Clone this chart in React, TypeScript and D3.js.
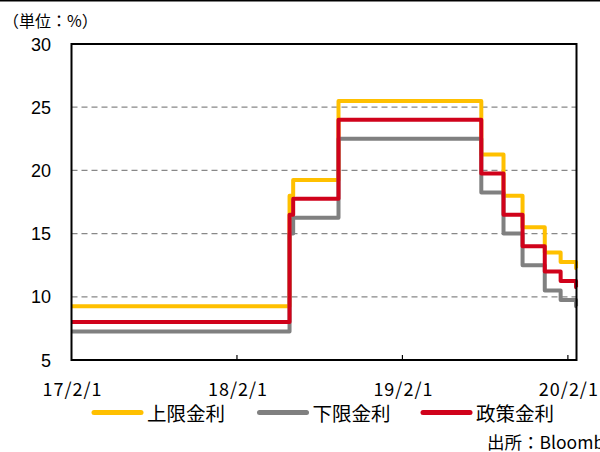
import React, { useRef, useEffect } from "react";
import * as d3 from "d3";

const W = 600;
const H = 452;

// change dates (step after) and the rates that hold from each date
const dates = [
  "2017-02-01", "2018-05-28", "2018-06-05", "2018-09-13", "2019-07-25",
  "2019-09-12", "2019-10-24", "2019-12-12", "2020-01-16", "2020-02-19", "2020-02-20",
];
const upper = [9.25, 18.0, 19.25, 25.5, 21.25, 18.0, 15.5, 13.5, 12.75, 12.25, 12.25];
const lower = [7.25, 15.0, 16.25, 22.5, 18.25, 15.0, 12.5, 10.5, 9.75, 9.25, 9.25];
const policy = [8.0, 16.5, 17.75, 24.0, 19.75, 16.5, 14.0, 12.0, 11.25, 10.75, 10.75];

const seriesNames = ["上限金利", "下限金利", "政策金利"];
const seriesColors = ["#FFC000", "#808080", "#D0021B"];
const xTicks = ["2017-02-01", "2018-02-01", "2019-02-01", "2020-02-01"];
const xTickLabels = ["17/2/1", "18/2/1", "19/2/1", "20/2/1"];
const yTicks = [5, 10, 15, 20, 25, 30];

const parse = d3.timeParse("%Y-%m-%d");

export default function App() {
  const ref = useRef<SVGSVGElement>(null);

  useEffect(() => {
    if (!ref.current) return;
    const svg = d3.select(ref.current);
    svg.selectAll("*").remove();

    const left = 71.5, right = 576.5, top = 44, bottom = 360;
    const x = d3.scaleTime()
      .domain([parse("2017-02-01")!, parse("2020-02-20")!])
      .range([left, right]);
    const y = d3.scaleLinear().domain([5, 30]).range([bottom, top]);

    const jp = "'Noto Sans CJK JP', sans-serif";
    const num = "'Liberation Sans', Arial, sans-serif";

    svg.append("rect").attr("width", W).attr("height", H).attr("fill", "#fff");
    svg.append("line").attr("x1", 0).attr("x2", W).attr("y1", 0.5).attr("y2", 0.5)
      .attr("stroke", "#000").attr("stroke-width", 2);

    // unit label
    svg.append("text").attr("x", 3).attr("y", 27).attr("font-family", jp)
      .attr("font-size", 16).attr("fill", "#000").text("（単位：%）");

    // grid
    svg.selectAll(".grid").data(yTicks.filter(v => v > 5 && v < 30)).enter()
      .append("line")
      .attr("x1", left).attr("x2", right)
      .attr("y1", d => y(d)).attr("y2", d => y(d))
      .attr("stroke", "#888").attr("stroke-width", 1.3)
      .attr("stroke-dasharray", "6,4");

    // y labels
    svg.selectAll(".ylab").data(yTicks).enter().append("text")
      .attr("x", 51).attr("y", d => y(d) + 6.5)
      .attr("text-anchor", "end").attr("font-family", num)
      .attr("font-size", 18).attr("fill", "#000")
      .text(d => d);

    // series
    const allSeries = [upper, lower, policy];
    const lineGen = d3.line<[Date, number]>()
      .x(d => x(d[0])).y(d => y(d[1]))
      .curve(d3.curveStepAfter);
    allSeries.forEach((vals, i) => {
      const pts: [Date, number][] = dates.map((d, j) => [parse(d)!, vals[j]]);
      svg.append("path").attr("d", lineGen(pts)!)
        .attr("fill", "none").attr("stroke", seriesColors[i])
        .attr("stroke-width", 4).attr("stroke-linejoin", "round");
    });

    // frame
    svg.append("rect").attr("x", left).attr("y", top)
      .attr("width", right - left).attr("height", bottom - top)
      .attr("fill", "none").attr("stroke", "#000").attr("stroke-width", 2);

    // x ticks & labels
    xTicks.forEach((t, i) => {
      const xp = x(parse(t)!);
      if (i > 0) {
        svg.append("line").attr("x1", xp).attr("x2", xp)
          .attr("y1", bottom).attr("y2", bottom - 5)
          .attr("stroke", "#000").attr("stroke-width", 1.2);
      }
      svg.append("text").attr("x", xp + 1).attr("y", 396)
        .attr("text-anchor", "middle").attr("font-family", jp)
        .attr("font-size", 18).attr("letter-spacing", 1).attr("fill", "#000")
        .text(xTickLabels[i]);
    });

    // legend
    const legX = [92, 257.5, 421];
    seriesNames.forEach((n, i) => {
      svg.append("line").attr("x1", legX[i] + 2).attr("x2", legX[i] + 49)
        .attr("y1", 412.5).attr("y2", 412.5)
        .attr("stroke", seriesColors[i]).attr("stroke-width", 5)
        .attr("stroke-linecap", "round");
      svg.append("text").attr("x", legX[i] + 55).attr("y", 421)
        .attr("font-family", jp).attr("font-size", 19.5).attr("fill", "#000")
        .text(n);
    });

    // source
    svg.append("text").attr("x", 487).attr("y", 449)
      .attr("font-family", jp).attr("font-size", 17.5).attr("fill", "#000")
      .text("出所：Bloomberg");
  }, []);

  return (
    <svg ref={ref} width={W} height={H}
      style={{ position: "absolute", left: 0, top: 0, display: "block" }} />
  );
}
